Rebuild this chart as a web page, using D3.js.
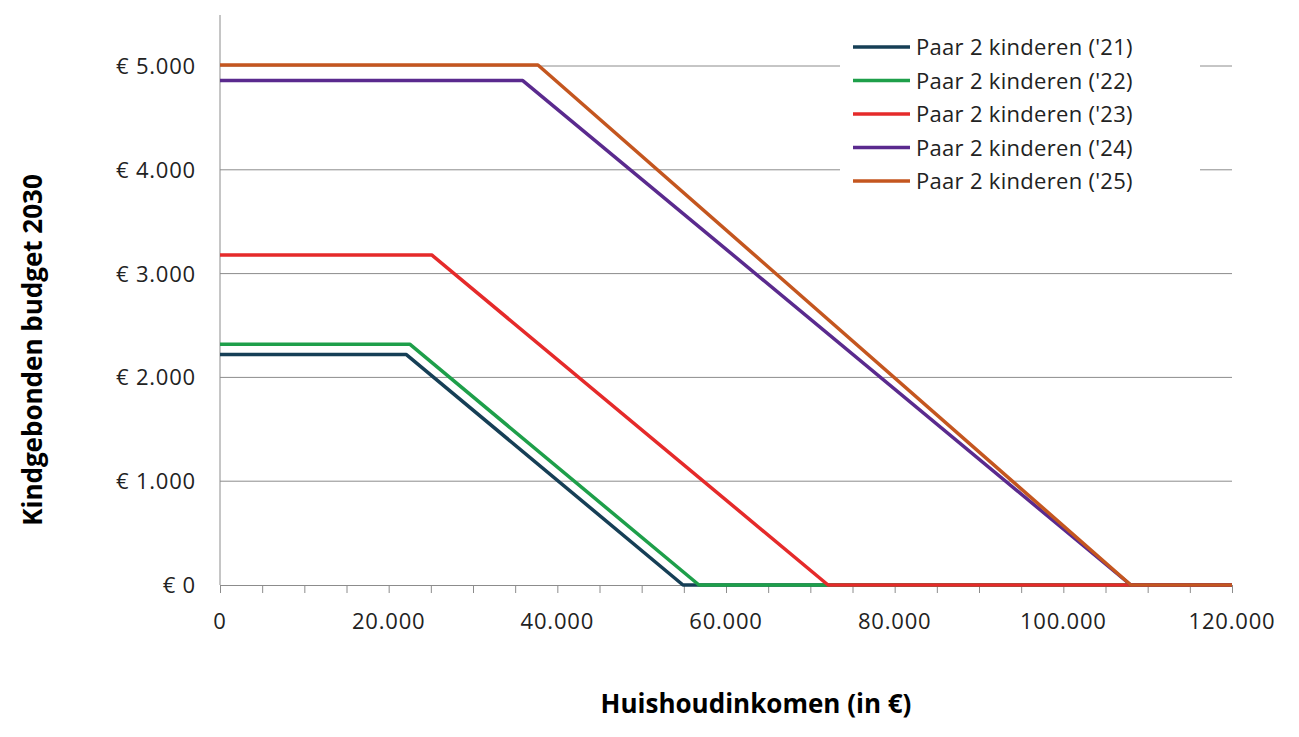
<!DOCTYPE html>
<html><head><meta charset="utf-8">
<script src="https://cdn.jsdelivr.net/npm/d3@7"></script>
<style>body{margin:0;background:#fff;font-family:"Open Sans",sans-serif}</style>
</head><body><div id="chart"></div>
<script>
const seriesNames = ["Paar 2 kinderen ('21)", "Paar 2 kinderen ('22)", "Paar 2 kinderen ('23)", "Paar 2 kinderen ('24)", "Paar 2 kinderen ('25)"];
const colors = ["#163f56", "#1e9f4a", "#e52a2a", "#5a2a8e", "#c4561f"];
// breakpoints: income, budget
const s21 = [[0, 2220], [22100, 2220], [54900, 0], [120000, 0]];
const s22 = [[0, 2320], [22500, 2320], [56800, 0], [120000, 0]];
const s23 = [[0, 3180], [25100, 3180], [72100, 0], [120000, 0]];
const s24 = [[0, 4860], [35900, 4860], [108000, 0], [120000, 0]];
const s25 = [[0, 5010], [37700, 5010], [108000, 0], [120000, 0]];
const series = [s21, s22, s23, s24, s25];
const yTicks = [0, 1000, 2000, 3000, 4000, 5000];
const xTicks = [0, 20000, 40000, 60000, 80000, 100000, 120000];

const W = 1299, H = 737;
const m = {left: 220, right: 67, top: 15, bottom: 152};
const svg = d3.select("#chart").append("svg").attr("width", W).attr("height", H);
const x = d3.scaleLinear().domain([0, 120000]).range([m.left, W - m.right]);
const y = d3.scaleLinear().domain([0, 5000]).range([585, 66]);
const nf = v => v.toLocaleString("nl-NL");

svg.append("g").selectAll("line").data(yTicks.filter(d => d > 0)).join("line")
  .attr("x1", x(0)).attr("x2", x(120000)).attr("y1", y).attr("y2", y)
  .attr("stroke", "#8c8c8c").attr("stroke-width", 1);

svg.append("line").attr("x1", x(0)).attr("x2", x(0)).attr("y1", m.top).attr("y2", y(0))
  .attr("stroke", "#8c8c8c");

const xAxis = svg.append("g").attr("transform", `translate(0,${y(0)})`)
  .call(d3.axisBottom(x).tickValues(d3.range(0, 120001, 5000)).tickSize(8).tickFormat(""));
xAxis.selectAll("line,path").attr("stroke", "#8c8c8c");
svg.append("g").selectAll("text").data(xTicks).join("text")
  .attr("x", x).attr("y", y(0) + 44).attr("text-anchor", "middle")
  .attr("font-size", 22).attr("letter-spacing", 0.8).attr("fill", "#222").text(nf);

svg.append("g").selectAll("text").data(yTicks).join("text")
  .attr("x", 196).attr("y", d => y(d) + 8).attr("text-anchor", "end")
  .attr("font-size", 22).attr("letter-spacing", 0.8).attr("fill", "#222").text(d => "€ " + nf(d));

const line = d3.line().x(d => x(d[0])).y(d => y(d[1]));
svg.append("g").selectAll("path").data(series).join("path")
  .attr("d", line).attr("fill", "none").attr("stroke", (d, i) => colors[i])
  .attr("stroke-width", 3.5).attr("stroke-linejoin", "round");

const lg = svg.append("g");
lg.append("rect").attr("x", 840).attr("y", 30).attr("width", 360).attr("height", 170).attr("fill", "#fff");
seriesNames.forEach((n, i) => {
  const yy = 47 + i * 33.5;
  lg.append("line").attr("x1", 853).attr("x2", 910).attr("y1", yy).attr("y2", yy)
    .attr("stroke", colors[i]).attr("stroke-width", 3.5);
  lg.append("text").attr("x", 916).attr("y", yy + 8).attr("font-size", 22).attr("letter-spacing", 0.3)
    .attr("fill", "#222").text(n);
});

svg.append("text").attr("x", 756).attr("y", 713).attr("text-anchor", "middle")
  .attr("font-size", 26).attr("font-weight", "bold").text("Huishoudinkomen (in €)");
svg.append("text").attr("transform", "translate(42,350) rotate(-90)").attr("text-anchor", "middle")
  .attr("font-size", 26).attr("font-weight", "bold").text("Kindgebonden budget 2030");
</script></body></html>
